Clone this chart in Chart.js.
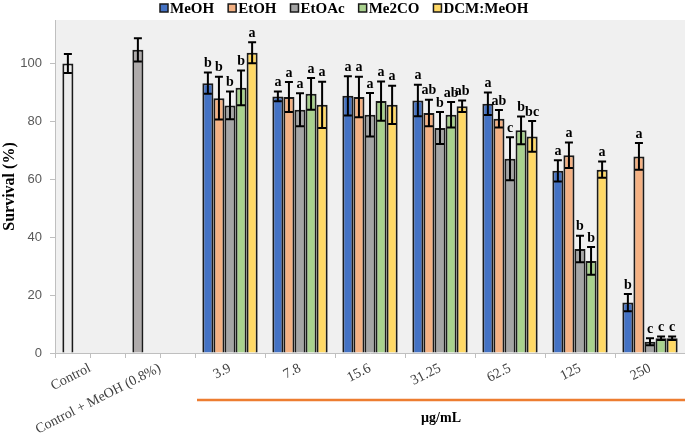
<!DOCTYPE html>
<html>
<head>
<meta charset="utf-8">
<script src="https://cdn.jsdelivr.net/npm/chart.js@4.4.0/dist/chart.umd.min.js"></script>
<style>
  html, body { margin: 0; padding: 0; background: #fff; }
  #wrap { width: 685px; height: 434px; position: relative; }
</style>
</head>
<body>
<div id="wrap"><canvas id="survivalChart"></canvas></div>
<script>
// data
const categories = ['Control', 'Control + MeOH (0.8%)', '3.9', '7.8', '15.6', '31.25', '62.5', '125', '250'];
const seriesNames = ['MeOH', 'EtOH', 'EtOAc', 'Me2CO', 'DCM:MeOH'];

const meoh    = [100, 104.7, 93.2, 88.6, 88.8, 87.2, 86.1, 62.9, 17.4];
const meohErr = [3.3, 4.0, 3.7, 1.7, 6.8, 5.4, 3.9, 3.7, 3.0];
const meohSig = ['', '', 'b', 'a', 'a', 'a', 'a', 'a', 'b'];

const etoh    = [null, null, 88.0, 88.4, 88.4, 82.9, 80.9, 68.3, 67.9];
const etohErr = [null, null, 7.4, 5.2, 7.0, 4.6, 3.0, 4.4, 4.6];
const etohSig = ['', '', 'b', 'a', 'a', 'ab', 'ab', 'a', 'a'];

const etoac    = [null, null, 85.5, 84.0, 82.3, 77.7, 67.1, 35.9, 3.9];
const etoacErr = [null, null, 4.8, 5.7, 7.5, 5.5, 7.4, 4.6, 1.2];
const etoacSig = ['', '', 'b', 'a', 'a', 'b', 'c', 'b', 'c'];

const me2co    = [null, null, 91.6, 89.5, 87.0, 82.3, 76.9, 31.8, 5.1];
const me2coErr = [null, null, 6.0, 5.5, 6.8, 4.4, 4.8, 4.8, 0.6];
const me2coSig = ['', '', 'b', 'a', 'a', 'ab', 'b', 'b', 'c'];

const dcm    = [null, null, 103.7, 85.7, 85.7, 85.2, 74.8, 63.3, 5.1];
const dcmErr = [null, null, 3.6, 8.0, 6.6, 2.0, 5.3, 2.8, 0.6];
const dcmSig = ['', '', 'a', 'a', 'a', 'ab', 'bc', 'a', 'c'];

const colors = ['#4472C4', '#F4B183', '#A5A5A5', '#A9D18E', '#FFD966'];
const controlColors = ['#ECECEC', '#AFABAB'];

const serif = 'Liberation Serif';

const values = [meoh, etoh, etoac, me2co, dcm];
const errors = [meohErr, etohErr, etoacErr, me2coErr, dcmErr];
const letters = [meohSig, etohSig, etoacSig, me2coSig, dcmSig];

const datasets = values.map((vals, i) => ({
    label: seriesNames[i],
    data: vals,
    backgroundColor: i === 0 ? vals.map((v, j) => j < 2 ? controlColors[j] : colors[0]) : colors[i],
    borderColor: '#1a1a1a',
    borderWidth: 2,
    borderSkipped: 'bottom',
    categoryPercentage: 0.79,
    barPercentage: 1.0
}));

// plot background
const plotBackground = {
    id: 'plotBackground',
    beforeDraw(chart) {
        const a = chart.chartArea;
        const ctx = chart.ctx;
        ctx.save();
        ctx.fillStyle = '#F0F0F0';
        ctx.fillRect(a.left, a.top, a.right - a.left, a.bottom - a.top);
        ctx.restore();
    }
};

// error bars and significance letters
const errorBars = {
    id: 'errorBars',
    afterDatasetsDraw(chart) {
        const ctx = chart.ctx;
        const y = chart.scales.y;
        ctx.save();
        chart.data.datasets.forEach((ds, i) => {
            const meta = chart.getDatasetMeta(i);
            meta.data.forEach((bar, j) => {
                const v = values[i][j];
                const e = errors[i][j];
                if (v == null || e == null) return;
                const top = y.getPixelForValue(v + e);
                const bot = y.getPixelForValue(v - e);
                ctx.strokeStyle = '#000';
                ctx.lineWidth = 2;
                ctx.beginPath();
                ctx.moveTo(bar.x, top);
                ctx.lineTo(bar.x, bot);
                ctx.moveTo(bar.x - 4, top);
                ctx.lineTo(bar.x + 4, top);
                ctx.moveTo(bar.x - 4, bot);
                ctx.lineTo(bar.x + 4, bot);
                ctx.stroke();
                const s = letters[i][j];
                if (s) {
                    ctx.fillStyle = '#000';
                    ctx.font = 'bold 14px "' + serif + '"';
                    ctx.textAlign = 'center';
                    ctx.textBaseline = 'bottom';
                    ctx.fillText(s, bar.x, top - 2);
                }
            });
        });
        ctx.restore();
    }
};

// legend row at the top (small boxes close to the text, as in the figure)
const topLegend = {
    id: 'topLegend',
    afterDraw(chart) {
        const ctx = chart.ctx;
        ctx.save();
        ctx.font = 'bold 15px "' + serif + '"';
        ctx.textBaseline = 'middle';
        ctx.textAlign = 'left';
        let x = 160;
        const yMid = 8;
        seriesNames.forEach((n, i) => {
            ctx.fillStyle = colors[i];
            ctx.fillRect(x, yMid - 4, 8, 8);
            ctx.strokeStyle = '#1a1a1a';
            ctx.lineWidth = 1.5;
            ctx.strokeRect(x, yMid - 4, 8, 8);
            ctx.fillStyle = '#000';
            ctx.fillText(n, x + 10, yMid + 1);
            x += 10 + ctx.measureText(n).width + 14;
        });
        ctx.restore();
    }
};

// minor ticks, orange bracket and unit label under the concentrations
const xExtras = {
    id: 'xExtras',
    afterDraw(chart) {
        const ctx = chart.ctx;
        const x = chart.scales.x;
        const a = chart.chartArea;
        ctx.save();
        ctx.strokeStyle = '#BFBFBF';
        ctx.lineWidth = 1;
        [0, 1].forEach(k => {
            const px = Math.round(x.getPixelForValue(k)) + 0.5;
            ctx.beginPath();
            ctx.moveTo(px, a.bottom);
            ctx.lineTo(px, a.bottom + 5);
            ctx.stroke();
        });
        const half = (x.getPixelForValue(3) - x.getPixelForValue(2)) / 2;
        const x0 = x.getPixelForValue(2) - half + 2;
        ctx.strokeStyle = '#ED7D31';
        ctx.lineWidth = 2.5;
        ctx.beginPath();
        ctx.moveTo(x0, a.bottom + 47);
        ctx.lineTo(a.right, a.bottom + 47);
        ctx.stroke();
        ctx.fillStyle = '#000';
        ctx.font = 'bold 14px "' + serif + '"';
        ctx.textAlign = 'center';
        ctx.textBaseline = 'middle';
        ctx.fillText('µg/mL', (x0 + a.right) / 2, a.bottom + 65);
        ctx.restore();
    }
};

const ctx = document.getElementById('survivalChart').getContext('2d');
new Chart(ctx, {
    type: 'bar',
    data: { labels: categories, datasets: datasets },
    options: {
        responsive: true,
        maintainAspectRatio: false,
        animation: false,
        layout: { padding: { top: 20, left: 0, right: 0, bottom: 0 } },
        plugins: {
            tooltip: { enabled: false },
            legend: { display: false }
        },
        scales: {
            x: {
                grid: {
                    offset: true,
                    drawOnChartArea: false,
                    tickLength: 5,
                    color: '#BFBFBF'
                },
                border: { color: '#BFBFBF', width: 1 },
                ticks: {
                    minRotation: 27,
                    maxRotation: 27,
                    padding: 2,
                    color: '#404040',
                    font: { family: serif, size: 14 }
                },
                afterFit: s => { s.height = 81; }
            },
            y: {
                min: 0,
                max: 115,
                ticks: {
                    stepSize: 20,
                    padding: 8,
                    color: '#595959',
                    font: { family: 'Liberation Sans', size: 13 }
                },
                afterBuildTicks: s => { s.ticks = s.ticks.filter(t => t.value <= 100); },
                grid: {
                    drawOnChartArea: false,
                    tickLength: 5,
                    color: '#BFBFBF'
                },
                border: { color: '#BFBFBF', width: 1 },
                title: {
                    display: true,
                    text: 'Survival (%)',
                    color: '#000',
                    padding: 0,
                    font: { family: serif, size: 16, weight: 'bold' }
                },
                afterFit: s => { s.width = 55; }
            }
        }
    },
    plugins: [plotBackground, errorBars, topLegend, xExtras]
});
</script>
</body>
</html>
